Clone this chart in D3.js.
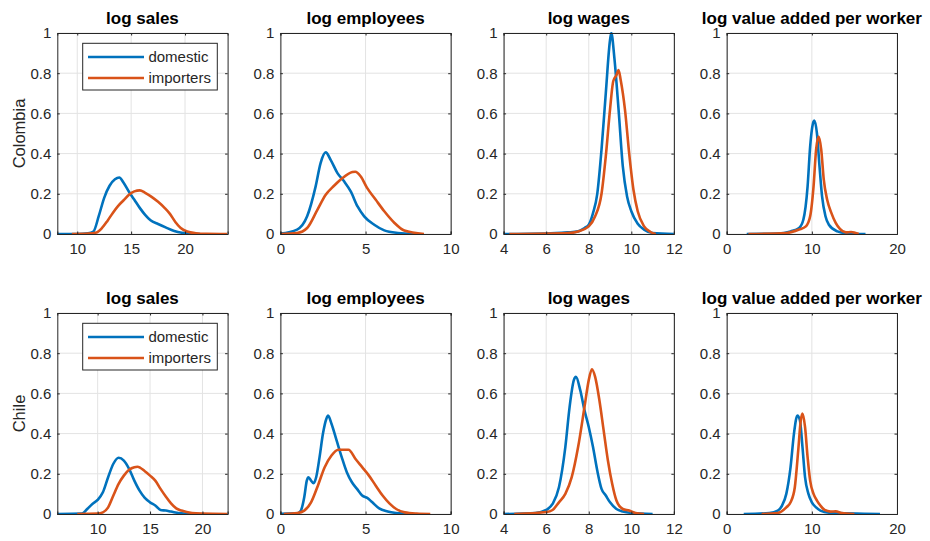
<!DOCTYPE html>
<html>
<head>
<meta charset="utf-8">
<script src="https://cdn.jsdelivr.net/npm/d3@7"></script>
<style>
  body { margin: 0; background: #fff; }
  text { font-family: "Liberation Sans", Arial, sans-serif; }
</style>
</head>
<body>
<div id="chart"></div>
<script>
const titles = ["log sales", "log employees", "log wages", "log value added per worker"];
const countries = ["Colombia", "Chile"];
const seriesNames = ["domestic", "importers"];
const yTicks = [0, 0.2, 0.4, 0.6, 0.8, 1];
const yTickLabels = ["0", "0.2", "0.4", "0.6", "0.8", "1"];
const xTicks = [[10, 15, 20], [0, 5, 10], [4, 6, 8, 10, 12], [0, 10, 20]];
const xDomainsColombia = [[8.15, 23.95], [0, 10], [4, 12], [0, 20]];
const xDomainsChile = [[6.15, 22.4], [0, 10], [4, 12], [0, 20]];

// Colombia
const colSalesDom = [[8.15,0],[10,0],[11,0.003],[11.5,0.012],[12,0.09],[12.5,0.18],[13,0.24],[13.5,0.272],[13.9,0.281],[14.3,0.255],[14.8,0.21],[15.3,0.17],[15.8,0.13],[16.3,0.095],[16.8,0.068],[17.5,0.05],[18.2,0.033],[19,0.015],[19.7,0.006],[20.5,0.002],[21.4,0]];
const colSalesImp = [[9.5,0],[11,0.002],[11.8,0.008],[12.3,0.03],[12.8,0.065],[13.3,0.105],[13.8,0.14],[14.3,0.168],[14.8,0.195],[15.3,0.212],[15.8,0.217],[16.3,0.205],[16.9,0.185],[17.5,0.16],[18.1,0.13],[18.6,0.1],[19.1,0.06],[19.6,0.03],[20.2,0.012],[21,0.004],[22,0.001],[23.9,0]];
const colEmpDom = [[0,0.002],[0.98,0.022],[1.57,0.088],[2.07,0.237],[2.36,0.353],[2.66,0.406],[2.95,0.369],[3.35,0.303],[3.74,0.262],[4.13,0.212],[4.53,0.137],[4.92,0.088],[5.51,0.046],[6.1,0.018],[6.9,0.005],[7.9,0]];
const colEmpImp = [[0,0],[0.98,0.005],[1.57,0.03],[2.17,0.12],[2.66,0.195],[3.15,0.24],[3.64,0.278],[4.23,0.308],[4.4,0.31],[4.72,0.286],[5.1,0.228],[5.6,0.17],[6.1,0.113],[6.7,0.055],[7.28,0.017],[8.43,0]];
const colWageDom = [[4,0],[6,0.002],[7,0.008],[7.5,0.013],[7.8,0.03],[8,0.046],[8.2,0.104],[8.4,0.2],[8.6,0.42],[8.8,0.7],[9,0.965],[9.06,1],[9.2,0.88],[9.4,0.62],[9.6,0.336],[9.8,0.187],[10,0.113],[10.3,0.051],[10.6,0.022],[11,0.005],[12,0]];
const colWageImp = [[4.27,0],[7,0.005],[7.5,0.013],[8,0.038],[8.3,0.088],[8.6,0.2],[8.8,0.386],[9,0.62],[9.15,0.76],[9.3,0.79],[9.4,0.816],[9.5,0.766],[9.7,0.62],[9.9,0.4],[10.1,0.22],[10.3,0.113],[10.6,0.038],[10.9,0.01],[11.15,0]];
const colVaDom = [[2.35,0],[6,0.002],[7.5,0.013],[8.5,0.03],[9,0.071],[9.5,0.237],[9.8,0.435],[10.2,0.56],[10.3,0.565],[10.6,0.5],[10.9,0.336],[11.2,0.187],[11.6,0.088],[12,0.046],[13,0.013],[14,0.004],[16.3,0]];
const colVaImp = [[2.55,0],[7,0.005],[8.5,0.022],[9.3,0.038],[9.8,0.088],[10.2,0.237],[10.5,0.42],[10.8,0.485],[11.1,0.42],[11.4,0.27],[11.8,0.17],[12.3,0.104],[12.8,0.055],[13.3,0.025],[14,0.008],[14.6,0.01],[15.5,0]];

// Chile
const chiSalesDom = [[6.15,0],[8.5,0.002],[9,0.025],[9.5,0.05],[10,0.07],[10.5,0.108],[11,0.183],[11.5,0.25],[12,0.28],[12.5,0.266],[13,0.225],[13.5,0.166],[14,0.116],[14.5,0.08],[15,0.058],[15.5,0.042],[16,0.02],[16.5,0.017],[17,0.012],[18,0.003],[19,0.001],[19.5,0]];
const chiSalesImp = [[8.05,0],[10,0.002],[10.5,0.008],[11,0.033],[11.5,0.092],[12,0.15],[12.5,0.191],[13,0.22],[13.5,0.233],[13.8,0.235],[14.5,0.213],[15,0.191],[15.5,0.166],[16,0.125],[16.5,0.087],[17,0.053],[17.5,0.028],[18,0.017],[19,0.005],[20,0.002],[22.4,0]];
const chiEmpDom = [[0,0.001],[1,0.003],[1.2,0.017],[1.4,0.083],[1.55,0.166],[1.65,0.183],[1.8,0.166],[1.95,0.153],[2.1,0.183],[2.3,0.283],[2.5,0.4],[2.7,0.474],[2.8,0.49],[3,0.449],[3.3,0.366],[3.6,0.283],[3.9,0.208],[4.2,0.158],[4.5,0.125],[4.8,0.092],[5.1,0.08],[5.4,0.058],[5.8,0.028],[6.3,0.013],[7,0.003],[7.5,0]];
const chiEmpImp = [[0.2,0],[1,0.005],[1.4,0.017],[1.8,0.058],[2.2,0.141],[2.6,0.233],[3,0.291],[3.4,0.32],[4,0.32],[4.4,0.275],[4.8,0.233],[5.2,0.191],[5.6,0.141],[6,0.092],[6.4,0.053],[6.8,0.025],[7.3,0.008],[8,0.002],[8.8,0]];
const chiWageDom = [[4,0],[5.5,0.005],[6,0.02],[6.3,0.05],[6.6,0.133],[6.9,0.333],[7.1,0.532],[7.3,0.666],[7.4,0.682],[7.6,0.616],[7.8,0.516],[8,0.433],[8.2,0.333],[8.4,0.216],[8.6,0.125],[8.8,0.092],[9,0.058],[9.3,0.025],[9.6,0.012],[10,0.005],[11,0]];
const chiWageImp = [[4.5,0],[6,0.01],[6.3,0.02],[6.6,0.058],[6.9,0.1],[7.2,0.183],[7.5,0.333],[7.8,0.532],[8,0.666],[8.15,0.72],[8.3,0.682],[8.5,0.566],[8.7,0.416],[8.9,0.266],[9.1,0.15],[9.3,0.067],[9.6,0.025],[9.9,0.017],[10.2,0.005],[10.6,0]];
const chiVaDom = [[2,0],[5,0.005],[6,0.017],[6.5,0.042],[7,0.1],[7.5,0.233],[7.9,0.4],[8.3,0.49],[8.6,0.466],[8.9,0.333],[9.2,0.183],[9.6,0.1],[10,0.058],[10.5,0.033],[11,0.017],[12,0.007],[18,0]];
const chiVaImp = [[4.1,0],[6,0.005],[7,0.033],[7.5,0.058],[8,0.133],[8.4,0.316],[8.7,0.466],[8.9,0.5],[9.2,0.433],[9.5,0.283],[9.8,0.166],[10.2,0.1],[10.6,0.067],[11,0.042],[11.5,0.02],[12.2,0.012],[12.8,0.013],[13.5,0.005],[15,0]];

const panelsColombia = [[colSalesDom, colSalesImp], [colEmpDom, colEmpImp], [colWageDom, colWageImp], [colVaDom, colVaImp]];
const panelsChile = [[chiSalesDom, chiSalesImp], [chiEmpDom, chiEmpImp], [chiWageDom, chiWageImp], [chiVaDom, chiVaImp]];

const colors = ["#0072BD", "#D95319"];
const axisColor = "#262626";
const gridColor = "#e3e3e3";

const W = 930, H = 541;
const colLeft = [57.3, 280.4, 503.6, 726.7];
const rowTop = [33, 313];
const pw = 170.3, ph = 201;

const svg = d3.select("#chart").append("svg")
  .attr("width", W).attr("height", H);

const rows = [
  { country: countries[0], domains: xDomainsColombia, panels: panelsColombia },
  { country: countries[1], domains: xDomainsChile, panels: panelsChile }
];

rows.forEach((row, r) => {
  // country label
  svg.append("text")
    .attr("transform", "translate(19," + (rowTop[r] + ph / 2) + ") rotate(-90)")
    .attr("text-anchor", "middle")
    .attr("dy", "0.35em")
    .style("font-size", "16.5px")
    .style("fill", axisColor)
    .text(row.country);

  row.panels.forEach((series, c) => {
    const g = svg.append("g")
      .attr("transform", "translate(" + colLeft[c] + "," + rowTop[r] + ")");

    const x = d3.scaleLinear().domain(row.domains[c]).range([0, pw]);
    const y = d3.scaleLinear().domain([0, 1]).range([ph, 0]);

    // grid
    g.selectAll(".gx").data(xTicks[c]).enter().append("line")
      .attr("x1", d => x(d)).attr("x2", d => x(d))
      .attr("y1", 0).attr("y2", ph)
      .style("stroke", gridColor);
    g.selectAll(".gy").data(yTicks).enter().append("line")
      .attr("x1", 0).attr("x2", pw)
      .attr("y1", d => y(d)).attr("y2", d => y(d))
      .style("stroke", gridColor);

    const clipId = "clip" + r + c;
    g.append("clipPath").attr("id", clipId)
      .append("rect").attr("width", pw).attr("height", ph + 2).attr("y", -1);

    const line = d3.line()
      .x(d => x(d[0]))
      .y(d => y(d[1]))
      .curve(d3.curveMonotoneX);

    series.forEach((s, i) => {
      g.append("path")
        .datum(s)
        .attr("clip-path", "url(#" + clipId + ")")
        .attr("d", line)
        .style("fill", "none")
        .style("stroke", colors[i])
        .style("stroke-width", 2.6)
        .style("stroke-linejoin", "round");
    });

    // axes (ticks inside, box)
    const xAxis = d3.axisBottom(x).tickValues(xTicks[c]).tickSize(-2.5).tickPadding(9);
    const yAxis = d3.axisLeft(y).tickValues(yTicks).tickSize(-2.5).tickPadding(6)
      .tickFormat((d, i) => yTickLabels[i]);

    g.append("g").attr("transform", "translate(0," + ph + ")").call(xAxis);
    g.append("g").call(yAxis);
    g.append("g").call(d3.axisTop(x).tickValues(xTicks[c]).tickSize(-2.5).tickFormat(""));
    g.append("g").attr("transform", "translate(" + pw + ",0)")
      .call(d3.axisRight(y).tickValues(yTicks).tickSize(-2.5).tickFormat(""));

    g.selectAll(".domain").style("stroke", axisColor);
    g.selectAll(".tick line").style("stroke", axisColor);
    g.selectAll(".tick text")
      .style("font-size", "15px")
      .style("fill", axisColor)
      .style("font-family", "'Liberation Sans', Arial, sans-serif");

    // title
    g.append("text")
      .attr("x", pw / 2).attr("y", -9)
      .attr("text-anchor", "middle")
      .style("font-size", "17px")
      .style("font-weight", "bold")
      .style("fill", "#000")
      .text(titles[c]);

    // legend in first column
    if (c === 0) {
      const lg = g.append("g").attr("transform", "translate(25.4,10.3)");
      lg.append("rect")
        .attr("width", 134.6).attr("height", 46.7)
        .style("fill", "#fff").style("stroke", axisColor).style("stroke-width", 1);
      seriesNames.forEach((name, i) => {
        const yy = 13.7 + i * 21;
        lg.append("line")
          .attr("x1", 5.3).attr("x2", 61.3)
          .attr("y1", yy).attr("y2", yy)
          .style("stroke", colors[i]).style("stroke-width", 2.6);
        lg.append("text")
          .attr("x", 65.7).attr("y", yy).attr("dy", "0.35em")
          .style("font-size", "15px")
          .style("fill", axisColor)
          .text(name);
      });
    }
  });
});
</script>
</body>
</html>
